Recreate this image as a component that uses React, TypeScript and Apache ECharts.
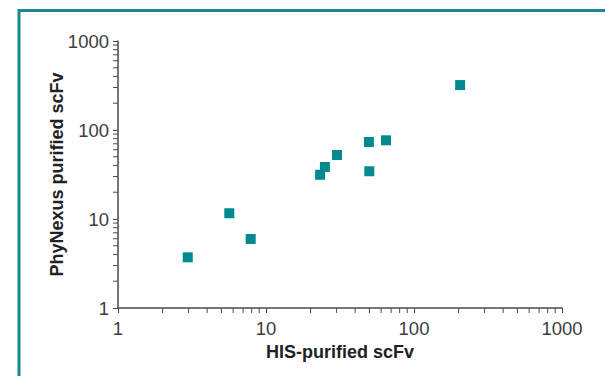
import React, { useEffect, useRef } from 'react';
import * as echarts from 'echarts';

// Data
const hisPurified = [2.96, 5.65, 7.88, 23.2, 25.0, 30.2, 49.6, 49.9, 64.7, 205];
const phyNexusPurified = [3.71, 11.6, 5.96, 31.4, 38.4, 52.4, 73.3, 34.4, 76.6, 320];
const axisMin = 1;
const axisMax = 1000;
const minorTickValues = [2, 3, 4, 5, 6, 7, 8, 9, 20, 30, 40, 50, 60, 70, 80, 90, 200, 300, 400, 500, 600, 700, 800, 900];
const xAxisName = 'HIS-purified scFv';
const yAxisName = 'PhyNexus purified scFv';

const AXIS_COLOR = '#4a4a4a';
const TEAL = '#008a90';
const FONT = '"Liberation Sans", Arial, Helvetica, sans-serif';

export default function App() {
  const ref = useRef<HTMLDivElement>(null);

  useEffect(() => {
    if (!ref.current) return;
    const chart = echarts.init(ref.current, undefined, { renderer: 'svg' });

    const points = hisPurified.map((x, i) => [x, phyNexusPurified[i]]);
    const xMinor = minorTickValues.map((v) => [v, axisMin]);
    const yMinor = minorTickValues.map((v) => [axisMin, v]);

    const axisCommon = {
      type: 'log' as const,
      logBase: 10,
      min: axisMin,
      max: axisMax,
      nameLocation: 'middle' as const,
      nameMoveOverlap: false,
      nameTextStyle: { fontWeight: 'bold' as const, fontSize: 18, color: '#222', fontFamily: FONT },
      axisLine: { show: true, onZero: false, lineStyle: { color: AXIS_COLOR, width: 1.5 } },
      axisTick: { show: true, inside: false, length: 5, lineStyle: { color: AXIS_COLOR, width: 1 } },
      axisLabel: {
        fontSize: 18.5,
        color: '#3d3d3d',
        fontFamily: FONT,
        formatter: (v: number) => String(Math.round(v)),
      },
      splitLine: { show: false },
      minorTick: { show: false },
    };

    chart.setOption({
      animation: false,
      backgroundColor: '#ffffff',
      grid: { left: 118, right: 43, top: 41, bottom: 68 },
      xAxis: {
        ...axisCommon,
        name: xAxisName,
        nameGap: 35,
        axisLabel: { ...axisCommon.axisLabel, margin: 11 },
      },
      yAxis: {
        ...axisCommon,
        name: yAxisName,
        nameGap: 52,
        axisLabel: { ...axisCommon.axisLabel, margin: 9 },
      },
      graphic: [
        {
          type: 'polyline',
          shape: { points: [[19, 376], [19, 10.5], [605, 10.5]] },
          style: { stroke: '#17898f', lineWidth: 3, fill: 'none' },
          silent: true,
        },
      ],
      series: [
        {
          type: 'scatter',
          data: points,
          symbol: 'rect',
          symbolSize: 10,
          itemStyle: { color: TEAL, opacity: 1 },
          z: 5,
        },
        {
          type: 'custom',
          silent: true,
          clip: false,
          data: xMinor,
          encode: { x: 0, y: 1 },
          renderItem: (params: any, api: any) => {
            const p = api.coord([api.value(0), api.value(1)]);
            return {
              type: 'line',
              shape: { x1: p[0], y1: p[1], x2: p[0], y2: p[1] + 5 },
              style: { stroke: AXIS_COLOR, lineWidth: 1 },
            };
          },
          z: 3,
        },
        {
          type: 'custom',
          silent: true,
          clip: false,
          data: yMinor,
          encode: { x: 0, y: 1 },
          renderItem: (params: any, api: any) => {
            const p = api.coord([api.value(0), api.value(1)]);
            return {
              type: 'line',
              shape: { x1: p[0] - 5, y1: p[1], x2: p[0], y2: p[1] },
              style: { stroke: AXIS_COLOR, lineWidth: 1 },
            };
          },
          z: 3,
        },
      ],
    });

    return () => chart.dispose();
  }, []);

  return (
    <div
      ref={ref}
      style={{ position: 'fixed', left: 0, top: 0, width: 605, height: 376 }}
    />
  );
}
